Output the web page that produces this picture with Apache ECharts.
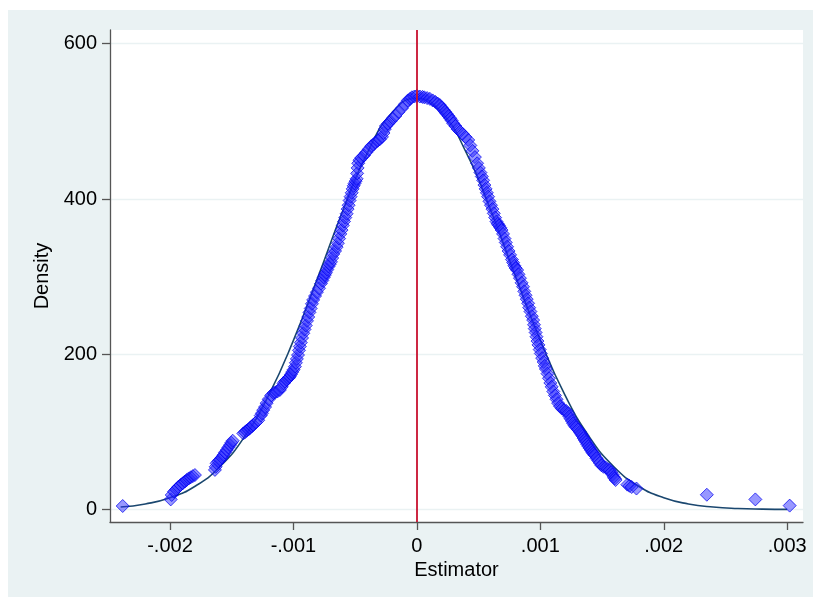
<!DOCTYPE html>
<html>
<head>
<meta charset="utf-8">
<script src="https://cdn.jsdelivr.net/npm/echarts@6/dist/echarts.min.js"></script>
<style>
  html, body { margin: 0; padding: 0; background: #fff; }
  #chart { position: absolute; left: 8px; top: 10px; width: 805px; height: 587px; background: #eaf2f3; }
</style>
</head>
<body>
<div id="chart"></div>
<script>
// tick positions and their Stata-style labels
const xTicks = [-0.002, -0.001, 0, 0.001, 0.002, 0.003];
const xTickLabels = ["-.002", "-.001", "0", ".001", ".002", ".003"];
const yTicks = [0, 200, 400, 600];
const refX = 0;

// kernel density points (diamonds)
const kdeX = [
  -0.002383, -0.001994, -0.001986, -0.001968, -0.00195, -0.001933, -0.001915, -0.001897, -0.00188, -0.001865,
  -0.001848, -0.001832, -0.001815, -0.001798, -0.001636, -0.00163, -0.001622, -0.001608, -0.001595, -0.00158,
  -0.001568, -0.001555, -0.00154, -0.001527, -0.001514, -0.001503, -0.001492, -0.001406, -0.001393, -0.00138,
  -0.001365, -0.001352, -0.001338, -0.001325, -0.001305, -0.001285, -0.001265, -0.001255, -0.001245, -0.00123,
  -0.001217, -0.0012, -0.00118, -0.00116, -0.001145, -0.00113, -0.00111, -0.001095, -0.00108, -0.001068,
  -0.001055, -0.001042, -0.00103, -0.00102, -0.00101, -0.000999, -0.000988, -0.00098, -0.000972, -0.000963,
  -0.000955, -0.000948, -0.00094, -0.00093, -0.00092, -0.00091, -0.0009, -0.00089, -0.00088, -0.00087,
  -0.00086, -0.00085, -0.00084, -0.000825, -0.00081, -0.000793, -0.000777, -0.000766, -0.000755, -0.000746,
  -0.000737, -0.000726, -0.000716, -0.000706, -0.000696, -0.000686, -0.000677, -0.000663, -0.00065, -0.00064,
  -0.00063, -0.00062, -0.00061, -0.0006, -0.00059, -0.00058, -0.000569, -0.000561, -0.000553, -0.000545,
  -0.000537, -0.000528, -0.00052, -0.000512, -0.000505, -0.000496, -0.000488, -0.000484, -0.00048, -0.000475,
  -0.000465, -0.00045, -0.000429, -0.00041, -0.00039, -0.00037, -0.000352, -0.000335, -0.000318, -0.0003,
  -0.000283, -0.00027, -0.00026, -0.000251, -0.000233, -0.000215, -0.000195, -0.000174, -0.00015, -0.000121,
  -0.000097, -0.000073, -0.000055, -0.00004, -0.00002, 0, 0.000024, 0.000045, 0.00006, 0.000083,
  0.000105, 0.000128, 0.00015, 0.000168, 0.000186, 0.0002, 0.000215, 0.000228, 0.00024, 0.000255,
  0.00027, 0.000282, 0.000294, 0.000312, 0.00033, 0.00035, 0.00037, 0.000393, 0.000416, 0.000433,
  0.00045, 0.00047, 0.000488, 0.000502, 0.000515, 0.000526, 0.000537, 0.000547, 0.000557, 0.000567,
  0.000577, 0.000588, 0.0006, 0.000612, 0.000623, 0.000634, 0.000645, 0.000655, 0.000665, 0.000676,
  0.000686, 0.000698, 0.00071, 0.00072, 0.000731, 0.000743, 0.000755, 0.00077, 0.00078, 0.00079,
  0.0008, 0.000812, 0.000823, 0.000835, 0.000848, 0.00086, 0.00087, 0.00088, 0.00089, 0.000901,
  0.00091, 0.00092, 0.000931, 0.000942, 0.000949, 0.000955, 0.000962, 0.000969, 0.000977, 0.000985,
  0.000995, 0.001004, 0.001015, 0.001027, 0.001036, 0.001045, 0.001058, 0.00107, 0.001081, 0.001092,
  0.001105, 0.001118, 0.001131, 0.001144, 0.00116, 0.001175, 0.001193, 0.00121, 0.001225, 0.001235,
  0.001245, 0.001256, 0.001266, 0.001278, 0.00129, 0.001305, 0.00132, 0.00133, 0.00134, 0.00135,
  0.00136, 0.00137, 0.00138, 0.00139, 0.0014, 0.00141, 0.00142, 0.00143, 0.00144, 0.001455,
  0.00147, 0.001482, 0.001495, 0.001512, 0.00153, 0.001547, 0.001563, 0.001575, 0.001585, 0.001595,
  0.001603, 0.00161, 0.001705, 0.001722, 0.00174, 0.001779, 0.002349, 0.002742, 0.00302
];
const kdeY = [
  4.5, 13, 18.7, 23, 26, 29, 31.5, 33.7, 36, 38,
  40, 41.5, 43, 44.4, 51, 55, 59.5, 62, 64, 67,
  70, 73.5, 76.6, 80, 83, 86, 88.6, 98, 99.5, 101.5,
  103, 105, 107, 109, 112, 115, 121, 124, 128, 132,
  137, 142, 147, 150, 151, 152, 154, 158, 162.5, 165,
  167, 169, 171, 174, 177, 180, 184, 189, 194, 199,
  205, 210, 215, 221, 227, 232, 237, 243, 248, 254,
  259, 265, 270, 275, 280, 285, 291, 295, 299, 302,
  305, 309, 313, 316, 319, 324, 329, 333, 338, 343,
  349, 355, 360, 366, 371, 376, 381, 387, 392, 398,
  403, 408, 413, 417, 420, 423, 426, 433, 440, 446,
  450, 453, 456, 460, 464, 468, 470, 473, 475, 477,
  480, 485, 490, 494, 497, 500, 504, 507, 512, 517,
  522, 527, 529, 531, 532, 533, 532, 531.5, 531, 530,
  529, 527, 525, 523, 521, 518, 515, 512.5, 510, 507,
  504, 501, 497.5, 494, 490, 487, 484, 480, 476, 469,
  462, 454, 446, 440, 434, 429, 424, 418, 413, 408,
  403, 397, 392, 387, 381.5, 376, 371, 368, 366, 363,
  360, 355, 349, 344, 338.5, 333, 328, 322, 318, 314,
  311, 308.5, 303, 298, 292, 287, 281, 276, 271, 265.6,
  260, 255, 249, 244, 238, 233, 228, 222.6, 217, 212,
  206, 201, 195, 190, 185, 181, 175, 169, 163, 158,
  152, 147, 142, 137, 133, 130, 128, 127, 124, 120,
  117, 114, 111, 108, 106, 103, 100, 97.5, 95, 92,
  89.5, 87, 84, 81.5, 79, 76.5, 74, 72, 70, 66,
  63, 60, 57, 55, 54, 52, 51, 48, 45, 42,
  40, 38, 32, 30.5, 29, 27, 19, 13, 5
];

// normal density curve
const normX = [
  -0.0024, -0.0022, -0.002, -0.0018, -0.0016, -0.0014, -0.0012, -0.001, -0.0008, -0.0006,
  -0.0004, -0.0002, 0, 0.0002, 0.0004, 0.0006, 0.0008, 0.001, 0.0012, 0.0014,
  0.0016, 0.0018, 0.002, 0.0022, 0.0024, 0.0026, 0.0028, 0.003
];
const normY = [
  3.2, 7.2, 15.1, 29.7, 54.4, 92.9, 147.3, 217.9, 300, 384.8,
  459.7, 511.5, 530, 511.5, 459.7, 384.8, 300, 217.9, 147.3, 92.9,
  54.4, 29.7, 15.1, 7.2, 3.2, 1.3, 0.5, 0.18
];

const chart = echarts.init(document.getElementById("chart"));

const labelFont = { fontFamily: "Liberation Sans, Arial, sans-serif", fontSize: 20, color: "#000" };
const axisColor = "#555";

function xLabel(v) {
  for (let i = 0; i < xTicks.length; i++) {
    if (Math.abs(xTicks[i] - v) < 1e-9) return xTickLabels[i];
  }
  return "";
}

const option = {
  animation: false,
  grid: {
    left: 102,
    right: 10,
    top: 20,
    bottom: 75,
    show: true,
    backgroundColor: "#fff",
    borderWidth: 0,
  },
  xAxis: {
    type: "value",
    min: -0.002486,
    max: 0.003128,
    name: "Estimator",
    nameLocation: "middle",
    nameGap: 32,
    nameTextStyle: labelFont,
    axisLine: { show: true, onZero: false, lineStyle: { color: axisColor, width: 1.3 } },
    axisTick: { show: true, length: 8, customValues: xTicks, lineStyle: { color: axisColor, width: 1.3 } },
    axisLabel: { ...labelFont, margin: 14, customValues: xTicks, formatter: xLabel },
    splitLine: { show: false },
  },
  yAxis: {
    type: "value",
    min: -16.1,
    max: 617.7,
    name: "Density",
    nameLocation: "middle",
    nameGap: 57,
    nameTextStyle: labelFont,
    axisLine: { show: true, onZero: false, lineStyle: { color: axisColor, width: 1.3 } },
    axisTick: { show: true, length: 8, customValues: yTicks, lineStyle: { color: axisColor, width: 1.3 } },
    axisLabel: { ...labelFont, margin: 13, customValues: yTicks },
    splitLine: { show: true, lineStyle: { color: "#eaf2f3", width: 1.3 } },
  },
  series: [
    {
      name: "normal",
      type: "line",
      data: normX.map((x, i) => [x, normY[i]]),
      smooth: true,
      showSymbol: false,
      z: 2,
      lineStyle: { color: "#1a476f", width: 1.6 },
    },
    {
      name: "kdensity",
      type: "scatter",
      data: kdeX.map((x, i) => [x, kdeY[i]]),
      symbol: "diamond",
      symbolSize: 13,
      z: 3,
      itemStyle: {
        color: "rgba(40,40,255,0.6)",
        borderColor: "rgba(0,0,240,0.9)",
        borderWidth: 1,
      },
      markLine: {
        silent: true,
        symbol: "none",
        label: { show: false },
        lineStyle: { color: "#c8102e", width: 1.8, type: "solid" },
        data: [{ xAxis: refX }],
      },
    },
  ],
};

chart.setOption(option);
</script>
</body>
</html>
